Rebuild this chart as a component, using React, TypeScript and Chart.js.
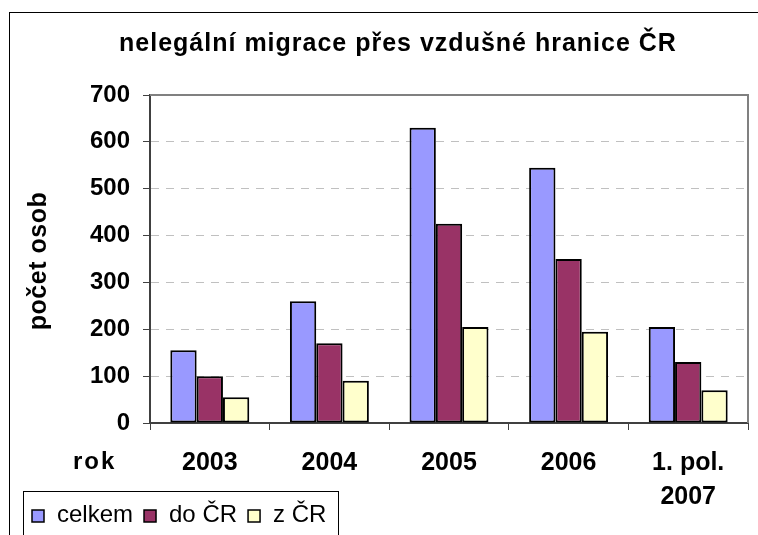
import React, { useEffect, useRef } from "react";
import { Chart, registerables } from "chart.js";

Chart.register(...registerables);

const categories: (string | string[])[] = ["2003", "2004", "2005", "2006", ["1. pol.", "2007"]];
const seriesNames = ["celkem", "do ČR", "z ČR"];
const celkem = [155, 260, 630, 545, 205];
const doCR = [100, 170, 425, 350, 130];
const zCR = [55, 90, 205, 195, 70];
const yTicks = [0, 100, 200, 300, 400, 500, 600, 700];
const colors = ["#9999FF", "#993366", "#FFFFCC"];

const FONT = '"Liberation Sans", Arial, sans-serif';

const decorPlugin = {
  id: "decor",
  afterDraw(chart: any) {
    const ctx = chart.ctx as CanvasRenderingContext2D;
    const area = chart.chartArea;
    ctx.save();
    // plot area top/right border
    ctx.strokeStyle = "#808080";
    ctx.lineWidth = 2;
    ctx.setLineDash([]);
    ctx.beginPath();
    ctx.moveTo(area.left, area.top);
    ctx.lineTo(area.right, area.top);
    ctx.lineTo(area.right, area.bottom);
    ctx.stroke();

    // outer chart border
    ctx.strokeStyle = "#000";
    ctx.lineWidth = 1;
    ctx.strokeRect(9.5, 12.5, 900, 700);

    // title
    ctx.fillStyle = "#000";
    ctx.font = `bold 25px ${FONT}`;
    (ctx as any).letterSpacing = "1px";
    ctx.textAlign = "center";
    ctx.textBaseline = "alphabetic";
    ctx.fillText("nelegální migrace přes vzdušné hranice ČR", 398, 51);

    // "rok"
    ctx.font = `bold 24px ${FONT}`;
    (ctx as any).letterSpacing = "2px";
    ctx.textAlign = "left";
    ctx.fillText("rok", 73, 469);

    // y axis title
    ctx.save();
    ctx.translate(45.5, 261);
    ctx.rotate(-Math.PI / 2);
    ctx.font = `bold 25px ${FONT}`;
    (ctx as any).letterSpacing = "0.5px";
    ctx.textAlign = "center";
    ctx.fillText("počet osob", 0, 0);
    ctx.restore();

    // legend
    (ctx as any).letterSpacing = "0px";
    ctx.strokeStyle = "#000";
    ctx.lineWidth = 1;
    ctx.strokeRect(23.5, 491.5, 315, 200);
    ctx.font = `24px ${FONT}`;
    ctx.textAlign = "left";
    let x = 32;
    chart.data.datasets.forEach((ds: any) => {
      ctx.fillStyle = ds.backgroundColor;
      ctx.fillRect(x, 510, 12, 12);
      ctx.lineWidth = 1.5;
      ctx.strokeStyle = "#000";
      ctx.strokeRect(x, 510, 12, 12);
      ctx.fillStyle = "#000";
      ctx.fillText(ds.label, x + 25, 521.5);
      x = x + 25 + ctx.measureText(ds.label).width + 11;
    });
    ctx.restore();
  },
};

export default function App() {
  const ref = useRef<HTMLCanvasElement>(null);
  useEffect(() => {
    if (!ref.current) return;
    const data = [celkem, doCR, zCR];
    const chart = new Chart(ref.current, {
      type: "bar",
      data: {
        labels: categories,
        datasets: seriesNames.map((name, i) => ({
          label: name,
          data: data[i],
          backgroundColor: colors[i],
          borderColor: "#000",
          borderWidth: 2,
          borderSkipped: false,
          categoryPercentage: 0.66,
          barPercentage: 1.0,
        })),
      },
      options: {
        responsive: false,
        animation: false,
        layout: { padding: { left: 0, top: 95, right: 10, bottom: 0 } },
        plugins: {
          legend: { display: false },
          title: { display: false },
          tooltip: { enabled: false },
        },
        scales: {
          x: {
            grid: {
              offset: true,
              drawOnChartArea: false,
              drawTicks: true,
              tickLength: 7,
              color: "#404040",
              tickColor: "#404040",
              lineWidth: 1,
            },
            border: { color: "#404040", width: 2 },
            ticks: {
              font: { family: FONT, size: 25, weight: "bold", lineHeight: 1.35 },
              color: "#000",
              padding: 16,
              maxRotation: 0,
              autoSkip: false,
            },
            afterFit: (s: any) => {
              s.height = 112;
            },
          },
          y: {
            min: 0,
            max: 700,
            afterBuildTicks: (s: any) => {
              s.ticks = yTicks.map((v) => ({ value: v }));
            },
            ticks: {
              stepSize: 100,
              font: { family: FONT, size: 24, weight: "bold" },
              color: "#000",
              padding: 13,
            },
            grid: {
              color: "#c0c0c0",
              lineWidth: 1,
              tickLength: 7,
              tickColor: "#404040",
              tickWidth: 1,
            },
            border: { color: "#404040", width: 2, dash: [8, 7] },
            afterFit: (s: any) => {
              s.width = 150;
            },
          },
        },
      },
      plugins: [decorPlugin],
    });
    return () => chart.destroy();
  }, []);
  return (
    <div style={{ position: "absolute", left: 0, top: 0, width: 758, height: 535, background: "#fff" }}>
      <canvas ref={ref} width={758} height={535} style={{ display: "block" }} />
    </div>
  );
}
